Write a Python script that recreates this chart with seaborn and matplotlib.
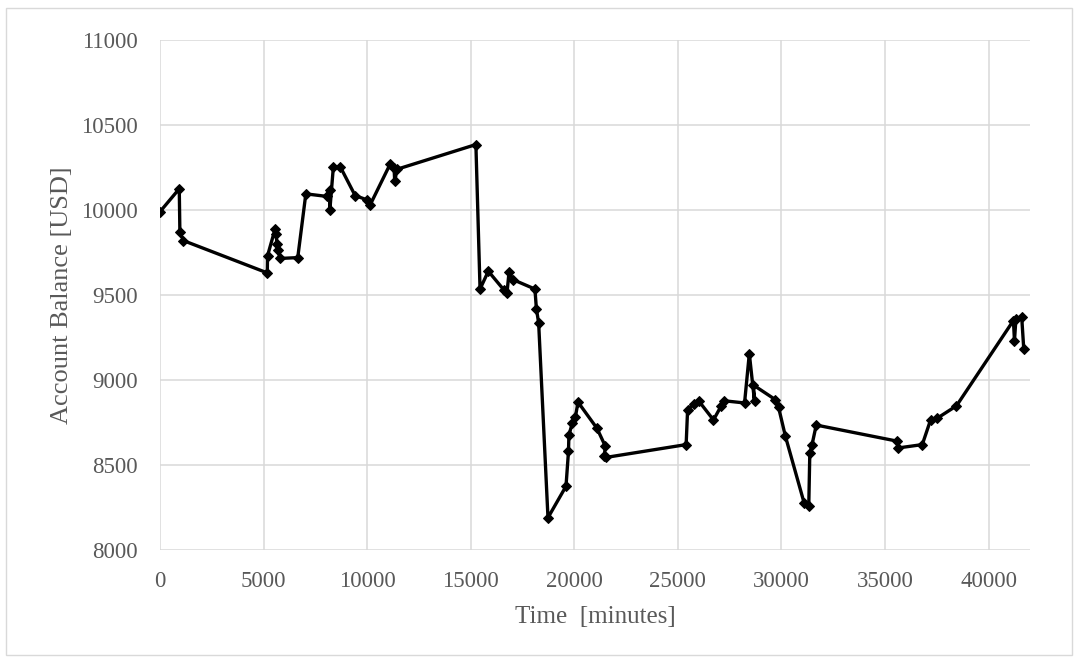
import pandas as pd
import seaborn as sns
import matplotlib.pyplot as plt
from matplotlib.patches import Rectangle

# time in minutes and account balance
minutes = [0, 930, 960, 1130, 5180, 5190, 5560, 5600, 5650, 5700, 5800,
           6650, 7040, 8050, 8200, 8200, 8370, 8700, 9420, 9985, 10145,
           11110, 11300, 11330, 11450, 15250, 15450, 15850, 16600, 16750,
           16850, 17050, 18100, 18170, 18280, 18730, 19600, 19720, 19740,
           19900, 20050, 20180, 21100, 21500, 21450, 21550, 25400, 25470,
           25760, 26000, 26720, 27080, 27220, 28220, 28450, 28700, 28650,
           29700, 29860, 30190, 31100, 31320, 31370, 31470, 31680, 35600,
           35620, 36800, 37200, 37520, 38450, 41200, 41250, 41320, 41600,
           41700]
balance = [9990, 10125, 9870, 9820, 9630, 9730, 9890, 9860, 9800, 9765, 9715,
           9720, 10095, 10080, 10120, 10000, 10255, 10255, 10085, 10060, 10030,
           10270, 10250, 10170, 10240, 10385, 9535, 9640, 9530, 9510,
           9635, 9590, 9535, 9420, 9335, 8190, 8375, 8580, 8675,
           8745, 8780, 8870, 8715, 8610, 8555, 8545, 8620, 8825,
           8860, 8878, 8765, 8845, 8878, 8865, 9155, 8875, 8970,
           8885, 8840, 8670, 8275, 8260, 8570, 8615, 8735, 8640,
           8600, 8620, 8765, 8775, 8848, 9350, 9230, 9360, 9370,
           9180]

df = pd.DataFrame({'minutes': minutes, 'balance': balance})

sns.set_theme(style='white')
plt.rcParams['font.family'] = ['Liberation Serif', 'DejaVu Serif']

fig = plt.figure(figsize=(10.78, 6.57), dpi=100)
ax = fig.add_axes([160 / 1078, 1 - 550 / 657, 870 / 1078, 510 / 657])

sns.lineplot(data=df, x='minutes', y='balance', sort=False, estimator=None,
             color='black', linewidth=2.4, marker='D', markersize=5.5,
             markeredgecolor='black', ax=ax)

ax.set_xlim(0, 42000)
ax.set_ylim(8000, 11000)
ax.set_xticks(range(0, 40001, 5000))
ax.set_yticks(range(8000, 11001, 500))
ax.grid(True, color='#d9d9d9', linewidth=1.1)
ax.set_axisbelow(True)
for s in ax.spines.values():
    s.set_visible(False)

ax.tick_params(axis='both', length=0, labelsize=16.5, colors='#595959')
ax.tick_params(axis='y', pad=16)
ax.tick_params(axis='x', pad=15)
ax.set_xlabel('Time  [minutes]', fontsize=18, color='#595959', labelpad=10)
ax.set_ylabel('Account Balance [USD]', fontsize=19, color='#595959', labelpad=6)

fig.patches.append(Rectangle((6 / 1078, 2 / 657), 1066 / 1078, 647 / 657,
                             transform=fig.transFigure, fill=False,
                             edgecolor='#d9d9d9', linewidth=1))

fig.savefig('out.png', dpi=100)
